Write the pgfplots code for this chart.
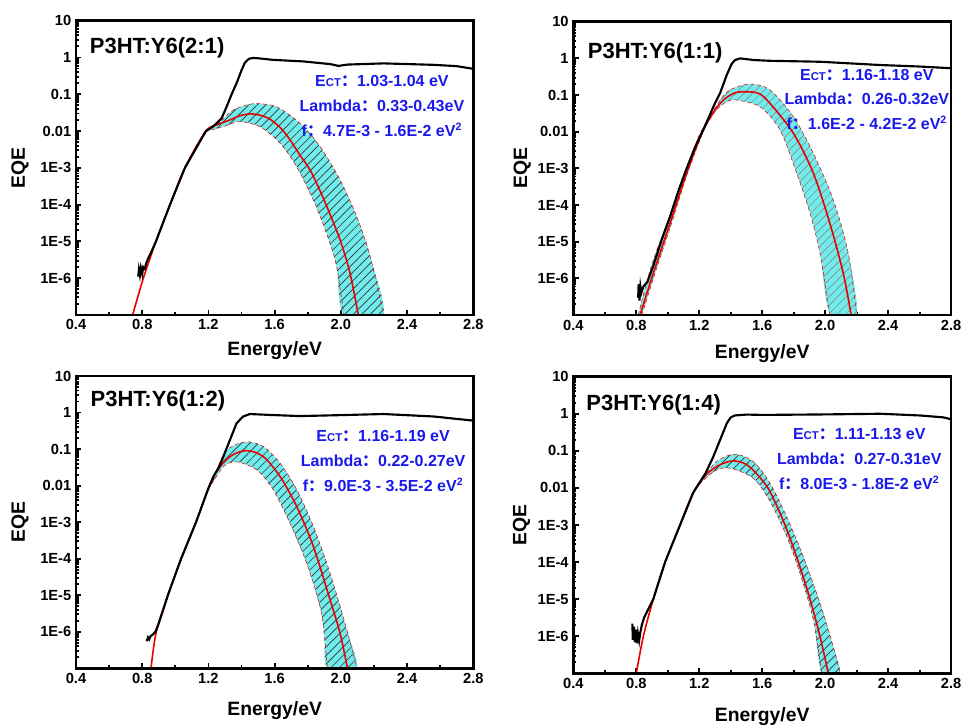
\documentclass[border=0pt]{standalone}
\usepackage{fontspec}
\setmainfont{Liberation Sans}
\newfontfamily\cjk{Noto Sans CJK SC}
\usepackage{pgfplots}
\pgfplotsset{compat=1.18}
\usetikzlibrary{patterns.meta}

\definecolor{bandcyan}{RGB}{112,236,236}
\definecolor{txtblue}{RGB}{25,25,235}
\definecolor{fitred}{RGB}{235,0,0}
\definecolor{frame}{RGB}{2,2,2}

\pgfplotsset{every axis/.append style={
    scale only axis, clip mode=individual,
    xmin=0.4, xmax=2.8,
    xtick={0.4,0.8,1.2,1.6,2.0,2.4,2.8},
    xticklabels={0.4,0.8,1.2,1.6,2.0,2.4,2.8},
    minor xtick={0.6,1.0,1.4,1.8,2.2,2.6},
    tick align=inside, tick pos=left,
    major tick length=4pt, minor tick length=2.2pt,
    every tick/.style={draw=frame, line width=1.4pt},
    axis line style={draw=frame, line width=2pt},
    tick label style={font=\bfseries\fontsize{11}{13}\selectfont},
    label style={font=\bfseries\fontsize{14.5}{16}\selectfont},
    xlabel={Energy/eV}, ylabel={EQE},
}}
\tikzset{
  myedge/.style={fitred, densely dashed, line width=0.4pt, smooth},
  myfit/.style={fitred, line width=1.2pt, smooth},
  mymeas/.style={draw=black, line width=1.6pt},
  myfill/.style={fill=bandcyan, draw=none, smooth,
    postaction={pattern={Lines[angle=45,distance=4.5pt,line width=0.5pt]}, pattern color=#1}},
  myframe/.style={draw=frame, line width=2pt},
}
\newcommand{\ttl}[1]{\node[anchor=west, text=black, font=\bfseries\fontsize{16.5}{18}\selectfont] at #1}
\newcommand{\info}[1]{\node[align=center, text=txtblue, font=\bfseries\fontsize{12}{18.5}\selectfont] at #1}
\newcommand{\fwc}{{\cjk ：}}
\newcommand{\ect}{E{\fontsize{8.5}{9}\selectfont CT}\fwc}

\begin{document}
\begin{tikzpicture}
\path[use as bounding box] (0,0) rectangle (720.75pt,-545.25pt);

% ---------- P3HT:Y6(2:1)
\begin{axis}[name=a1, anchor=north west, at={(57pt,-15.5pt)}, width=298pt, height=220.7pt,
  ymode=log, ymin=1e-7, ymax=10,
  ytick={1e-6,1e-5,1e-4,1e-3,0.01,0.1,1,10},
  yticklabels={1E-6,1E-5,1E-4,1E-3,0.01,0.1,1,10},
  minor ytick={2e-7,3e-7,4e-7,5e-7,6e-7,7e-7,8e-7,9e-7,2e-6,3e-6,4e-6,5e-6,6e-6,7e-6,8e-6,9e-6,2e-5,3e-5,4e-5,5e-5,6e-5,7e-5,8e-5,9e-5,2e-4,3e-4,4e-4,5e-4,6e-4,7e-4,8e-4,9e-4,2e-3,3e-3,4e-3,5e-3,6e-3,7e-3,8e-3,9e-3,0.02,0.03,0.04,0.05,0.06,0.07,0.08,0.09,0.2,0.3,0.4,0.5,0.6,0.7,0.8,0.9,2,3,4,5,6,7,8,9},
  xlabel style={at={(axis description cs:0.5,-0.12)}, anchor=center},
  ylabel style={at={(axis description cs:-0.141,0.5)}, anchor=center}]
\addplot[myfill=black!80] coordinates {(1.18,9.5e-3)(1.27,0.0175)(1.35,0.0372)(1.47,0.055)(1.61,0.0457)(1.753,0.0162)(1.874,3.8e-3)(1.995,4.7e-4)(2.096,4.7e-5)(2.177,3.9e-6)(2.257,1e-7)
  (2.018,1e-7)(1.974,2.1e-6)(1.913,1.66e-5)(1.833,1.35e-4)(1.733,1.07e-3)(1.632,4.7e-3)(1.51,0.0132)(1.39,0.018)(1.31,0.0141)(1.18,9.5e-3)};
\addplot[myedge] coordinates {(1.18,9.5e-3)(1.27,0.0175)(1.35,0.0372)(1.47,0.055)(1.61,0.0457)(1.753,0.0162)(1.874,3.8e-3)(1.995,4.7e-4)(2.096,4.7e-5)(2.177,3.9e-6)(2.257,1e-7)};
\addplot[myedge] coordinates {(1.18,9.5e-3)(1.31,0.0141)(1.39,0.018)(1.51,0.0132)(1.632,4.7e-3)(1.733,1.07e-3)(1.833,1.35e-4)(1.913,1.66e-5)(1.974,2.1e-6)(2.018,1e-7)};
\addplot[myfit] coordinates {(0.742,1e-7)(0.807,1e-6)(0.883,1e-5)(0.968,1e-4)(1.058,1e-3)(1.185,0.01)(1.27,0.0158)(1.33,0.020)(1.39,0.026)(1.45,0.0292)(1.51,0.027)(1.572,0.021)(1.64,0.0115)(1.693,5.75e-3)(1.75,2.3e-3)(1.814,8.7e-4)(1.87,2.6e-4)(1.915,8.9e-5)(1.995,1.1e-5)(2.055,1.38e-6)(2.105,1e-7)};
\addplot[mymeas] coordinates {(0.776,1.1e-6)(0.780,1.7e-6)(0.786,1.2e-6)(0.792,1.9e-6)(0.80,1.3e-6)(0.806,2.0e-6)(0.815,1.8e-6)(0.825,2.6e-6)(0.838,3.6e-6)(0.85,4.6e-6)(0.883,1e-5)(0.968,1e-4)(1.058,1e-3)(1.185,0.01)(1.23,0.0135)(1.26,0.018)(1.28,0.0224)(1.31,0.046)(1.34,0.1)(1.37,0.2)(1.40,0.45)(1.42,0.72)(1.445,0.92)(1.47,0.97)(1.50,0.95)(1.59,0.86)(1.773,0.78)(1.935,0.66)(1.985,0.59)(2.04,0.64)(2.257,0.69)(2.56,0.63)(2.7,0.58)(2.8,0.49)};
\draw[myframe] (rel axis cs:0,0) rectangle (rel axis cs:1,1);
\ttl{(rel axis cs:0.023,0.907)} {P3HT:Y6(2:1)};
\info{(rel axis cs:0.770,0.710)} {\ect1.03-1.04 eV\\Lambda\fwc 0.33-0.43eV\\f\fwc 4.7E-3 - 1.6E-2 eV\textsuperscript{2}};
\end{axis}
\draw[myframe] (a1.south west) rectangle (a1.north east);

% ---------- P3HT:Y6(1:1)
\begin{axis}[name=a2, anchor=north west, at={(430pt,-16.3pt)}, width=283.3pt, height=220pt,
  ymode=log, ymin=1e-7, ymax=10,
  ytick={1e-6,1e-5,1e-4,1e-3,0.01,0.1,1,10},
  yticklabels={1E-6,1E-5,1E-4,1E-3,0.01,0.1,1,10},
  minor ytick={2e-7,3e-7,4e-7,5e-7,6e-7,7e-7,8e-7,9e-7,2e-6,3e-6,4e-6,5e-6,6e-6,7e-6,8e-6,9e-6,2e-5,3e-5,4e-5,5e-5,6e-5,7e-5,8e-5,9e-5,2e-4,3e-4,4e-4,5e-4,6e-4,7e-4,8e-4,9e-4,2e-3,3e-3,4e-3,5e-3,6e-3,7e-3,8e-3,9e-3,0.02,0.03,0.04,0.05,0.06,0.07,0.08,0.09,0.2,0.3,0.4,0.5,0.6,0.7,0.8,0.9,2,3,4,5,6,7,8,9},
  xlabel style={at={(axis description cs:0.5,-0.13)}, anchor=center},
  ylabel style={at={(axis description cs:-0.135,0.5)}, anchor=center}]
\addplot[myfill=black!45] coordinates {(0.812,1e-7)(0.90,2.5e-6)(1.014,5e-5)(1.12,1e-3)(1.20,8e-3)(1.268,0.0257)(1.332,0.072)(1.395,0.138)(1.523,0.2)(1.65,0.138)(1.798,0.0257)(1.925,2.57e-3)(2.052,1.38e-4)(2.147,4.8e-6)(2.20,1e-7)
  (2.031,1e-7)(1.967,4.8e-6)(1.904,6e-5)(1.819,7.4e-4)(1.713,0.0112)(1.586,0.048)(1.438,0.073)(1.375,0.066)(1.30,0.0355)(1.226,0.0100)(1.12,6.3e-4)(1.02,2.8e-5)(0.92,1.41e-6)(0.835,1e-7)};
\addplot[myedge] coordinates {(0.812,1e-7)(0.90,2.5e-6)(1.014,5e-5)(1.12,1e-3)(1.20,8e-3)(1.268,0.0257)(1.332,0.072)(1.395,0.138)(1.523,0.2)(1.65,0.138)(1.798,0.0257)(1.925,2.57e-3)(2.052,1.38e-4)(2.147,4.8e-6)(2.20,1e-7)};
\addplot[myedge] coordinates {(0.835,1e-7)(0.92,1.41e-6)(1.02,2.8e-5)(1.12,6.3e-4)(1.226,0.0100)(1.30,0.0355)(1.375,0.066)(1.438,0.073)(1.586,0.048)(1.713,0.0112)(1.819,7.4e-4)(1.904,6e-5)(1.967,4.8e-6)(2.031,1e-7)};
\addplot[myfit] coordinates {(0.824,1e-7)(0.908,1.38e-6)(1.014,3.16e-5)(1.12,7.4e-4)(1.226,0.0112)(1.332,0.059)(1.42,0.112)(1.50,0.123)(1.58,0.11)(1.65,0.059)(1.798,9.1e-3)(1.925,7.4e-4)(2.03,3.16e-5)(2.115,1.38e-6)(2.165,1e-7)};
\addplot[mymeas] coordinates {(0.812,3e-7)(0.815,7e-7)(0.82,2.5e-7)(0.826,6e-7)(0.832,4e-7)(0.845,6e-7)(0.87,8e-7)(0.908,2.2e-6)(0.96,1.1e-5)(1.014,4.8e-5)(1.07,2.6e-4)(1.12,1.0e-3)(1.17,3.5e-3)(1.226,0.0115)(1.268,0.029)(1.30,0.06)(1.332,0.112)(1.375,0.355)(1.405,0.7)(1.427,0.9)(1.459,1.0)(1.55,0.9)(1.65,0.86)(1.967,0.81)(2.35,0.66)(2.6,0.6)(2.8,0.54)};
\draw[myframe] (rel axis cs:0,0) rectangle (rel axis cs:1,1);
\ttl{(rel axis cs:0.026,0.894)} {P3HT:Y6(1:1)};
\info{(rel axis cs:0.777,0.736)} {\ect1.16-1.18 eV\\Lambda\fwc 0.26-0.32eV\\f\fwc 1.6E-2 - 4.2E-2 eV\textsuperscript{2}};
\end{axis}
\draw[myframe] (a2.south west) rectangle (a2.north east);

% ---------- P3HT:Y6(1:2)
\begin{axis}[name=a3, anchor=north west, at={(57pt,-282pt)}, width=298pt, height=219.2pt,
  ymode=log, ymin=1e-7, ymax=10,
  ytick={1e-6,1e-5,1e-4,1e-3,0.01,0.1,1,10},
  yticklabels={1E-6,1E-5,1E-4,1E-3,0.01,0.1,1,10},
  minor ytick={2e-7,3e-7,4e-7,5e-7,6e-7,7e-7,8e-7,9e-7,2e-6,3e-6,4e-6,5e-6,6e-6,7e-6,8e-6,9e-6,2e-5,3e-5,4e-5,5e-5,6e-5,7e-5,8e-5,9e-5,2e-4,3e-4,4e-4,5e-4,6e-4,7e-4,8e-4,9e-4,2e-3,3e-3,4e-3,5e-3,6e-3,7e-3,8e-3,9e-3,0.02,0.03,0.04,0.05,0.06,0.07,0.08,0.09,0.2,0.3,0.4,0.5,0.6,0.7,0.8,0.9,2,3,4,5,6,7,8,9},
  xlabel style={at={(axis description cs:0.5,-0.144)}, anchor=center},
  ylabel style={at={(axis description cs:-0.141,0.5)}, anchor=center}]
\addplot[myfill=black!80] coordinates {(1.20,7.8e-3)(1.26,0.034)(1.30,0.083)(1.36,0.13)(1.44,0.158)(1.532,0.117)(1.633,0.041)(1.734,7.6e-3)(1.834,7.6e-4)(1.935,4.0e-5)(2.036,1.12e-6)(2.096,1e-7)
  (1.918,1e-7)(1.90,8e-7)(1.874,4.9e-6)(1.794,7.4e-5)(1.693,9.3e-4)(1.592,7.6e-3)(1.492,0.0269)(1.37,0.0447)(1.29,0.033)(1.20,7.8e-3)};
\addplot[myedge] coordinates {(1.20,7.8e-3)(1.26,0.034)(1.30,0.083)(1.36,0.13)(1.44,0.158)(1.532,0.117)(1.633,0.041)(1.734,7.6e-3)(1.834,7.6e-4)(1.935,4.0e-5)(2.036,1.12e-6)(2.096,1e-7)};
\addplot[myedge] coordinates {(1.20,7.8e-3)(1.29,0.033)(1.37,0.0447)(1.492,0.0269)(1.592,7.6e-3)(1.693,9.3e-4)(1.794,7.4e-5)(1.874,4.9e-6)(1.90,8e-7)(1.918,1e-7)};
\addplot[myfit] coordinates {(0.853,1e-7)(0.885,1e-6)(0.955,1e-5)(1.035,1e-4)(1.125,1e-3)(1.23,0.0176)(1.33,0.0617)(1.431,0.091)(1.532,0.0617)(1.633,0.0176)(1.734,2.63e-3)(1.834,2.14e-4)(1.935,7.4e-6)(1.995,9.1e-7)(2.04,1e-7)};
\addplot[mymeas] coordinates {(0.827,5.5e-7)(0.835,7e-7)(0.842,6.2e-7)(0.85,7.5e-7)(0.865,8.5e-7)(0.88,1.0e-6)(0.898,1.6e-6)(0.92,3.2e-6)(0.955,1.0e-5)(1.035,1e-4)(1.125,1e-3)(1.20,8.5e-3)(1.23,0.0176)(1.26,0.03)(1.29,0.062)(1.33,0.178)(1.37,0.51)(1.41,0.78)(1.45,0.91)(1.572,0.86)(1.753,0.80)(2.0,0.85)(2.257,0.91)(2.56,0.78)(2.8,0.60)};
\draw[myframe] (rel axis cs:0,0) rectangle (rel axis cs:1,1);
\ttl{(rel axis cs:0.025,0.915)} {P3HT:Y6(1:2)};
\info{(rel axis cs:0.773,0.709)} {\ect1.16-1.19 eV\\Lambda\fwc 0.22-0.27eV\\f\fwc 9.0E-3 - 3.5E-2 eV\textsuperscript{2}};
\end{axis}
\draw[myframe] (a3.south west) rectangle (a3.north east);

% ---------- P3HT:Y6(1:4)
\begin{axis}[name=a4, anchor=north west, at={(430pt,-282.5pt)}, width=283.3pt, height=222.5pt,
  ymode=log, ymin=1e-7, ymax=10,
  ytick={1e-6,1e-5,1e-4,1e-3,0.01,0.1,1,10},
  yticklabels={1E-6,1E-5,1E-4,1E-3,0.01,0.1,1,10},
  minor ytick={2e-7,3e-7,4e-7,5e-7,6e-7,7e-7,8e-7,9e-7,2e-6,3e-6,4e-6,5e-6,6e-6,7e-6,8e-6,9e-6,2e-5,3e-5,4e-5,5e-5,6e-5,7e-5,8e-5,9e-5,2e-4,3e-4,4e-4,5e-4,6e-4,7e-4,8e-4,9e-4,2e-3,3e-3,4e-3,5e-3,6e-3,7e-3,8e-3,9e-3,0.02,0.03,0.04,0.05,0.06,0.07,0.08,0.09,0.2,0.3,0.4,0.5,0.6,0.7,0.8,0.9,2,3,4,5,6,7,8,9},
  xlabel style={at={(axis description cs:0.5,-0.145)}, anchor=center},
  ylabel style={at={(axis description cs:-0.137,0.5)}, anchor=center}]
\addplot[myfill=black!80] coordinates {(1.20,0.0125)(1.30,0.047)(1.42,0.081)(1.544,0.051)(1.65,0.0133)(1.756,1.66e-3)(1.861,1.41e-4)(1.967,7.8e-6)(2.052,5.2e-7)(2.094,1e-7)
  (1.978,1e-7)(1.925,2.75e-6)(1.84,5e-5)(1.756,4.9e-4)(1.65,4.3e-3)(1.544,0.0182)(1.396,0.034)(1.30,0.029)(1.20,0.0125)};
\addplot[myedge] coordinates {(1.20,0.0125)(1.30,0.047)(1.42,0.081)(1.544,0.051)(1.65,0.0133)(1.756,1.66e-3)(1.861,1.41e-4)(1.967,7.8e-6)(2.052,5.2e-7)(2.094,1e-7)};
\addplot[myedge] coordinates {(1.20,0.0125)(1.30,0.029)(1.396,0.034)(1.544,0.0182)(1.65,4.3e-3)(1.756,4.9e-4)(1.84,5e-5)(1.925,2.75e-6)(1.978,1e-7)};
\addplot[myfit] coordinates {(0.80,1e-7)(0.845,1e-6)(0.908,1e-5)(0.983,1e-4)(1.078,1e-3)(1.162,7.5e-3)(1.25,0.024)(1.33,0.0417)(1.417,0.0537)(1.50,0.0427)(1.58,0.0204)(1.649,8e-3)(1.745,1e-3)(1.83,1e-4)(1.904,1e-5)(1.967,1e-6)(2.02,1e-7)};
\addplot[mymeas] coordinates {(0.775,2.2e-6)(0.778,8e-7)(0.785,1.8e-6)(0.79,7e-7)(0.797,1.5e-6)(0.803,6.5e-7)(0.81,1.2e-6)(0.818,7.5e-7)(0.826,1.3e-6)(0.835,2.0e-6)(0.85,3.2e-6)(0.87,4.8e-6)(0.908,1e-5)(0.983,1e-4)(1.078,1e-3)(1.162,7.5e-3)(1.20,0.0135)(1.24,0.025)(1.289,0.069)(1.332,0.195)(1.375,0.55)(1.40,0.8)(1.427,0.9)(1.50,0.95)(1.607,0.93)(2.0,0.96)(2.35,1.0)(2.6,0.9)(2.75,0.8)(2.8,0.71)};
\draw[myframe] (rel axis cs:0,0) rectangle (rel axis cs:1,1);
\ttl{(rel axis cs:0.022,0.905)} {P3HT:Y6(1:4)};
\info{(rel axis cs:0.757,0.722)} {\ect1.11-1.13 eV\\Lambda\fwc 0.27-0.31eV\\f\fwc 8.0E-3 - 1.8E-2 eV\textsuperscript{2}};
\end{axis}
\draw[myframe] (a4.south west) rectangle (a4.north east);
\end{tikzpicture}
\end{document}
